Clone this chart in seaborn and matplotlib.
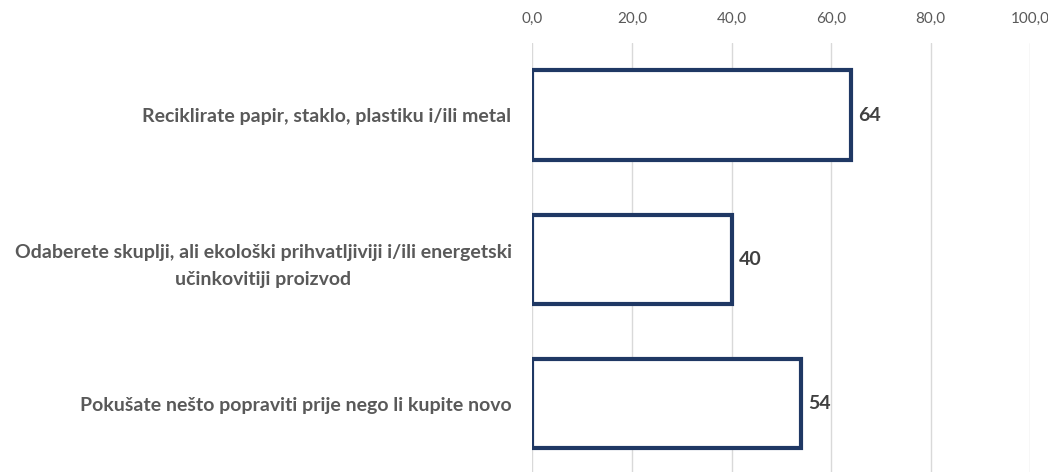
import matplotlib
matplotlib.use("Agg")
import matplotlib.pyplot as plt
from matplotlib.ticker import FuncFormatter
import seaborn as sns
import pandas as pd

# data
categories = [
    "Reciklirate papir, staklo, plastiku i/ili metal",
    "Odaberete skuplji, ali ekološki prihvatljiviji i/ili energetski\nučinkovitiji proizvod",
    "Pokušate nešto popraviti prije nego li kupite novo",
]
values = [64, 40, 54]
x_ticks = [0, 20, 40, 60, 80, 100]

df = pd.DataFrame({"category": categories, "value": values})

sns.set_style("white")
plt.rcParams["font.family"] = ["Lato", "DejaVu Sans"]

TEXT = "#595959"
EDGE = "#1F3864"

fig = plt.figure(figsize=(10.48, 4.72), dpi=100)
ax = fig.add_axes([0.508, -0.008, 0.475, 0.917])

sns.barplot(data=df, x="value", y="category", orient="h", color="white",
            edgecolor=EDGE, linewidth=3, width=0.62, saturation=1, ax=ax)

ax.set_xlim(0, 100)
ax.set_ylim(2.5, -0.5)
ax.set_xticks(x_ticks)
ax.xaxis.set_major_formatter(FuncFormatter(lambda v, p: f"{v:.1f}".replace(".", ",")))
ax.xaxis.tick_top()
ax.grid(axis="x", color="#D9D9D9", linewidth=1)
ax.set_axisbelow(True)
for s in ax.spines.values():
    s.set_visible(False)
ax.tick_params(axis="x", length=0, pad=12, labelsize=11, labelcolor=TEXT)
ax.tick_params(axis="y", length=0, pad=15, labelsize=14, labelcolor=TEXT)
for lab in ax.get_yticklabels():
    lab.set_fontweight("bold")
    lab.set_multialignment("center")
    lab.set_linespacing(1.7)
ax.set_xlabel("")
ax.set_ylabel("")

for i, v in enumerate(values):
    ax.text(v + 1.4, i, f"{v:.0f}", va="center", ha="left",
            fontsize=14, fontweight="bold", color="#404040")

fig.savefig("out.png", dpi=100)
